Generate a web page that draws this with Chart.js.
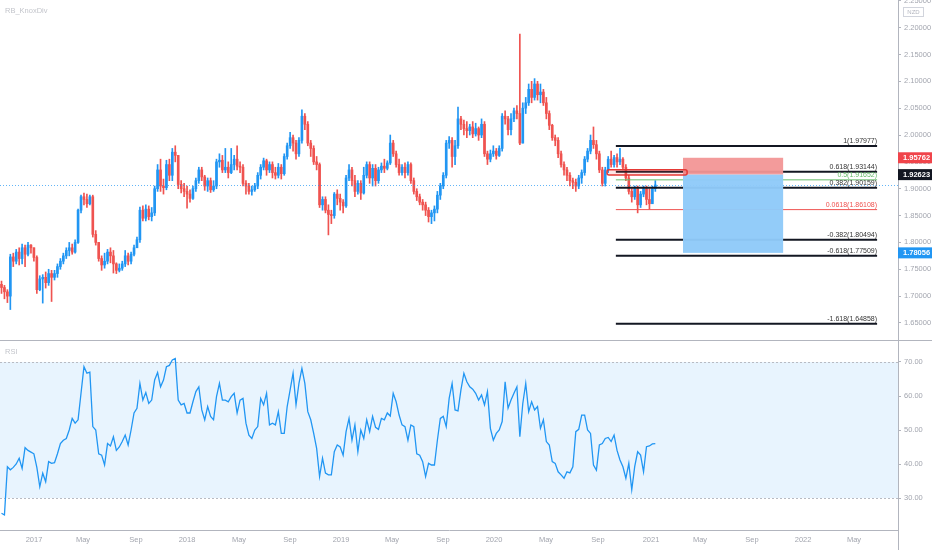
<!DOCTYPE html>
<html><head><meta charset="utf-8">
<script src="https://cdn.jsdelivr.net/npm/chart.js@4.4.1/dist/chart.umd.min.js"></script>
<style>
html,body{margin:0;padding:0;background:#fff;width:932px;height:550px;overflow:hidden}
.box{position:absolute;left:0;width:932px}
</style></head><body>
<div class="box" style="top:0;height:340px"><canvas id="c1" width="932" height="340"></canvas></div>
<div class="box" style="top:340px;height:210px"><canvas id="c2" width="932" height="210"></canvas></div>
<script>
// ---------- DATA (weekly candles, index = week number) ----------
const firstOpen = 1.722;
const closes = [
1.716,1.708,1.700,1.773,1.765,1.782,1.770,1.790,1.778,1.795,
1.790,1.772,1.712,1.732,1.735,1.725,1.742,1.735,1.742,1.755,
1.765,1.775,1.785,1.790,1.782,1.800,1.860,1.885,1.880,1.872,
1.885,1.815,1.800,1.770,1.758,1.765,1.782,1.775,1.760,1.748,
1.752,1.760,1.775,1.765,1.778,1.790,1.805,1.860,1.845,1.862,
1.848,1.855,1.900,1.935,1.905,1.902,1.945,1.925,1.968,1.962,
1.908,1.900,1.895,1.890,1.882,1.900,1.915,1.935,1.922,1.905,
1.915,1.898,1.905,1.950,1.953,1.935,1.940,1.930,1.945,1.955,
1.942,1.940,1.910,1.905,1.895,1.898,1.905,1.925,1.940,1.952,
1.935,1.945,1.930,1.925,1.940,1.928,1.960,1.980,1.995,1.985,
1.965,1.990,2.035,2.020,1.985,1.975,1.950,1.945,1.870,1.880,
1.860,1.852,1.850,1.890,1.882,1.875,1.868,1.920,1.935,1.915,
1.895,1.910,1.892,1.925,1.945,1.920,1.938,1.915,1.935,1.942,
1.938,1.948,1.985,1.965,1.945,1.930,1.940,1.930,1.945,1.915,
1.895,1.885,1.875,1.870,1.860,1.848,1.855,1.862,1.888,1.905,
1.925,1.985,1.990,1.960,1.980,2.030,2.020,2.012,2.008,2.015,
2.002,2.012,2.000,2.020,1.965,1.955,1.965,1.970,1.962,1.975,
2.035,2.030,2.010,2.030,2.045,2.040,1.985,2.050,2.060,2.085,
2.070,2.095,2.075,2.080,2.060,2.040,2.018,1.995,1.990,1.965,
1.945,1.935,1.925,1.915,1.912,1.905,1.920,1.930,1.955,1.970,
1.990,1.982,1.965,1.935,1.910,1.935,1.955,1.945,1.958,1.950,
1.955,1.940,1.920,1.895,1.885,1.900,1.870,1.890,1.900,1.880,
1.872,1.900,1.907];
const highs = [
1.728,1.720,1.712,1.778,1.780,1.787,1.790,1.797,1.795,1.800,
1.796,1.790,1.775,1.738,1.740,1.745,1.750,1.748,1.748,1.760,
1.770,1.780,1.790,1.800,1.797,1.805,1.862,1.888,1.892,1.890,
1.888,1.888,1.822,1.800,1.775,1.780,1.787,1.790,1.785,1.762,
1.760,1.765,1.785,1.780,1.782,1.795,1.810,1.866,1.868,1.870,
1.868,1.865,1.905,1.945,1.955,1.918,1.953,1.955,1.975,1.980,
1.962,1.915,1.910,1.905,1.898,1.905,1.920,1.940,1.940,1.925,
1.920,1.920,1.915,1.955,1.965,1.962,1.975,1.950,1.975,1.962,
1.980,1.950,1.945,1.915,1.910,1.905,1.910,1.930,1.945,1.957,
1.955,1.950,1.950,1.940,1.947,1.945,1.965,1.985,2.005,2.000,
1.990,1.995,2.047,2.040,2.025,1.990,1.980,1.960,1.948,1.885,
1.885,1.870,1.860,1.893,1.898,1.890,1.880,1.925,1.945,1.940,
1.925,1.915,1.915,1.940,1.950,1.950,1.945,1.945,1.940,1.948,
1.955,1.952,2.000,1.990,1.970,1.955,1.945,1.948,1.950,1.948,
1.920,1.900,1.890,1.880,1.875,1.865,1.860,1.868,1.895,1.910,
1.930,1.990,1.997,1.995,1.990,2.052,2.035,2.028,2.025,2.020,
2.025,2.022,2.015,2.030,2.025,1.970,1.972,1.980,1.975,1.980,
2.040,2.045,2.035,2.040,2.050,2.055,2.188,2.060,2.070,2.095,
2.100,2.105,2.100,2.095,2.085,2.070,2.045,2.020,2.000,1.995,
1.970,1.950,1.940,1.930,1.920,1.918,1.925,1.935,1.960,1.975,
2.000,2.015,1.990,1.970,1.940,1.940,1.960,1.970,1.962,1.965,
1.975,1.958,1.945,1.925,1.900,1.905,1.905,1.895,1.905,1.905,
1.900,1.905,1.915];
const lows = [
1.705,1.695,1.688,1.675,1.755,1.760,1.758,1.760,1.755,1.775,
1.780,1.765,1.705,1.710,1.687,1.715,1.720,1.690,1.730,1.735,
1.750,1.760,1.770,1.775,1.778,1.780,1.798,1.855,1.870,1.865,
1.870,1.810,1.795,1.765,1.748,1.752,1.760,1.762,1.743,1.742,
1.745,1.748,1.755,1.758,1.760,1.775,1.790,1.800,1.840,1.840,
1.842,1.840,1.850,1.895,1.895,1.890,1.898,1.915,1.915,1.950,
1.900,1.892,1.885,1.864,1.875,1.880,1.895,1.910,1.915,1.897,
1.895,1.893,1.895,1.900,1.940,1.930,1.930,1.920,1.928,1.935,
1.935,1.930,1.905,1.890,1.890,1.888,1.895,1.900,1.918,1.935,
1.925,1.930,1.920,1.918,1.920,1.918,1.925,1.955,1.975,1.970,
1.955,1.960,1.985,2.010,1.980,1.960,1.945,1.935,1.865,1.860,
1.855,1.814,1.835,1.845,1.870,1.860,1.855,1.865,1.915,1.905,
1.885,1.890,1.880,1.890,1.920,1.910,1.905,1.905,1.910,1.930,
1.930,1.935,1.945,1.960,1.940,1.925,1.925,1.920,1.925,1.910,
1.890,1.878,1.870,1.860,1.850,1.838,1.835,1.840,1.855,1.880,
1.900,1.920,1.975,1.940,1.945,1.975,2.010,2.000,1.995,2.000,
1.995,1.998,1.990,1.995,1.960,1.945,1.950,1.960,1.955,1.960,
1.970,2.020,2.000,2.000,2.025,2.030,1.982,1.985,2.040,2.055,
2.060,2.065,2.065,2.060,2.055,2.030,2.010,1.990,1.980,1.958,
1.940,1.925,1.915,1.905,1.900,1.895,1.900,1.910,1.925,1.950,
1.965,1.975,1.955,1.930,1.905,1.905,1.930,1.940,1.940,1.940,
1.945,1.935,1.915,1.890,1.875,1.880,1.855,1.865,1.885,1.870,
1.862,1.875,1.895];
const rsiValues = [
25.5,25.0,39.2,38.3,39.0,40.0,41.7,38.7,44.8,44.0,
43.5,43.0,39.0,33.3,37.3,34.8,40.7,40.2,40.4,43.0,
46.0,47.0,47.5,50.0,53.4,52.0,53.0,60.8,68.6,66.7,
67.0,51.0,50.0,43.0,42.6,39.7,46.0,45.3,48.0,44.0,
45.0,46.6,48.5,45.6,50.0,55.0,56.4,63.7,58.8,61.0,
57.8,58.8,64.7,66.9,62.7,64.7,68.6,69.0,70.6,71.0,
58.8,57.4,57.8,55.0,55.0,58.3,61.3,62.7,55.9,53.0,
56.9,54.0,53.0,59.8,63.7,58.8,58.8,58.3,59.8,60.8,
55.0,58.8,59.3,52.0,48.5,47.5,50.0,51.0,59.3,57.4,
60.8,51.5,52.0,51.5,55.4,49.0,49.0,56.9,61.8,66.7,
57.4,63.7,68.1,63.7,55.4,53.0,49.0,44.6,36.3,41.7,
37.3,36.8,36.8,43.6,45.6,45.0,42.6,49.5,53.4,47.0,
51.5,43.6,50.0,47.5,53.0,49.5,54.0,50.8,50.2,53.4,
53.0,55.0,54.1,60.8,58.3,54.4,51.5,51.0,47.0,51.5,
51.0,43.0,42.6,40.7,36.3,40.2,39.7,39.7,47.0,53.4,
54.0,51.0,59.3,63.7,55.9,55.6,61.8,66.7,64.2,62.7,
62.0,60.8,58.8,60.3,57.4,61.3,50.5,47.0,49.0,50.0,
52.5,64.2,56.4,58.8,60.8,62.7,48.0,57.8,63.7,55.4,
58.3,55.9,56.9,50.5,53.0,46.6,45.6,40.7,40.2,37.7,
36.8,35.8,37.7,37.4,39.2,49.5,50.2,54.4,54.4,50.0,
49.0,39.7,38.2,45.6,46.0,47.5,47.8,46.6,48.5,44.0,
41.2,39.2,35.8,40.2,32.4,39.2,43.6,42.6,37.7,45.1,
45.3,45.9,46.0];

// axis ticks
const timeTickWeeks = [11.04,27.67,45.67,62.99,80.65,97.96,115.28,132.6,149.92,167.23,184.89,202.55,220.54,237.18,254.84,272.16,289.47];
const timeTickLabels = ['2017','May','Sep','2018','May','Sep','2019','May','Sep','2020','May','Sep','2021','May','Sep','2022','May'];
const priceTicks = [1.65,1.70,1.75,1.80,1.85,1.90,1.95,2.00,2.05,2.10,2.15,2.20,2.25];
const rsiTicks = [30,40,50,60,70];
const weekMin = -0.51, weekMax = 304.4;
const priceMin = 1.6183, priceMax = 2.2514;
const rsiMin = 20.59, rsiMax = 76.47;
const rsiUpper = 70, rsiLower = 30;

// drawings
const fibRatios = ['1','0.618','0.5','0.382','0.0618','-0.382','-0.618','-1.618'];
const fibPrices = [1.97977,1.93144,1.91652,1.90159,1.86108,1.80494,1.77509,1.64858];
const fibStartWeek = 208.6, fibEndWeek = 297.3;
const posStartWeek = 231.4, posEndWeek = 265.4;
const entryPrice = 1.92623, stopPrice = 1.95762, targetPrice = 1.78056;
const zoneStartWeek = 205.6, zoneEndWeek = 232.8, zoneTop = 1.9355, zoneBottom = 1.9255;
const lastPrice = 1.907;
const titleText = 'RB_KnoxDiv';
const currencyText = 'NZD';

// ---------- STYLE ----------
const UP = '#2196f3', DOWN = '#ef5350';
const AXIS = '#b2b5be', TXT = '#a3a6af';
const FONT = "'Liberation Sans', Arial, sans-serif";

const opens = closes.map((c,i)=> i===0 ? firstOpen : closes[i-1]);
const colorFor = i => closes[i] >= opens[i] ? UP : DOWN;

const bodyData = closes.map((c,i)=>({x:i, y:[opens[i], c]}));
const wickData = closes.map((c,i)=>({x:i, y:[lows[i], highs[i]]}));

const noPadV = s => { s.width = 34; s.paddingTop = 0; s.paddingBottom = 0; };

const overlay = {
  id:'overlay',
  afterDatasetsDraw(chart){
    const {ctx, chartArea:a, scales:{x, y}} = chart;
    ctx.save();
    const ly = Math.round(y.getPixelForValue(lastPrice))+0.5;
    ctx.strokeStyle = 'rgba(33,150,243,0.7)'; ctx.lineWidth = 1; ctx.setLineDash([1,2]);
    ctx.beginPath(); ctx.moveTo(a.left, ly); ctx.lineTo(a.right, ly); ctx.stroke();
    ctx.setLineDash([]);
    const fx0 = x.getPixelForValue(fibStartWeek), fx1 = x.getPixelForValue(fibEndWeek);
    ctx.font = '7px ' + FONT; ctx.textAlign = 'right'; ctx.textBaseline = 'alphabetic';
    fibRatios.forEach((r,i)=>{
      const py = y.getPixelForValue(fibPrices[i]);
      let col = '#131722', lw = 2;
      if (r==='0.5'){ col = '#66bb6a'; lw = 1; }
      if (r==='0.0618'){ col = '#ef5350'; lw = 1; }
      ctx.strokeStyle = col; ctx.lineWidth = lw;
      ctx.beginPath(); ctx.moveTo(fx0, py); ctx.lineTo(fx1, py); ctx.stroke();
      ctx.fillStyle = r==='0.5' ? '#66bb6a' : (r==='0.0618' ? '#ef5350' : '#333');
      ctx.fillText(r + '(' + fibPrices[i].toFixed(5) + ')', fx1, py - 3);
    });
    const px0 = x.getPixelForValue(posStartWeek), px1 = x.getPixelForValue(posEndWeek);
    const ys = y.getPixelForValue(stopPrice), ye = y.getPixelForValue(entryPrice), yt = y.getPixelForValue(targetPrice);
    ctx.fillStyle = 'rgba(242,150,150,0.95)';
    ctx.fillRect(px0, ys, px1-px0, ye-ys);
    ctx.fillStyle = 'rgba(144,202,249,0.97)';
    ctx.fillRect(px0, ye, px1-px0, yt-ye);
    const zx0 = x.getPixelForValue(zoneStartWeek), zx1 = x.getPixelForValue(zoneEndWeek);
    const zy0 = y.getPixelForValue(zoneTop), zy1 = y.getPixelForValue(zoneBottom);
    ctx.fillStyle = 'rgba(239,83,80,0.15)';
    ctx.fillRect(zx0, zy0, zx1-zx0, zy1-zy0);
    ctx.strokeStyle = '#e53935'; ctx.lineWidth = 1.5;
    ctx.beginPath(); ctx.roundRect(zx0, zy0, zx1-zx0, zy1-zy0, 2); ctx.stroke();
    ctx.restore();
  },
  afterDraw(chart){
    const {ctx, chartArea:a, scales:{y}} = chart;
    ctx.save();
    const tags = [[stopPrice, '#f0444a'], [entryPrice, '#131722'], [targetPrice, '#2196f3']];
    ctx.font = 'bold 7.5px ' + FONT; ctx.textBaseline = 'middle'; ctx.textAlign = 'left';
    tags.forEach(([p, bg])=>{
      const py = y.getPixelForValue(p);
      ctx.fillStyle = bg; ctx.fillRect(a.right, py-5.5, chart.width - a.right, 11);
      ctx.fillStyle = '#fff'; ctx.fillText(p.toFixed(5), a.right+5, py+0.5);
    });
    ctx.font = '7.5px ' + FONT; ctx.fillStyle = '#c3c5cb'; ctx.textBaseline = 'middle';
    ctx.fillText(titleText, 5, 11);
    ctx.fillStyle = '#fff'; ctx.fillRect(902, 6, 23, 11);
    ctx.strokeStyle = '#d1d4dc'; ctx.lineWidth = 1;
    ctx.strokeRect(903.5, 7.5, 20, 9);
    ctx.font = '6px ' + FONT; ctx.fillStyle = '#b2b5be'; ctx.textAlign = 'center';
    ctx.fillText(currencyText, 913.5, 12.5);
    ctx.restore();
  }
};

new Chart(document.getElementById('c1'), {
  type:'bar',
  data:{datasets:[
    {data: bodyData, grouped:false, barThickness:2, minBarLength:1, borderWidth:0,
     backgroundColor: c => colorFor(c.dataIndex)},
    {data: wickData, grouped:false, barThickness:1, borderWidth:0,
     backgroundColor: c => colorFor(c.dataIndex)}
  ]},
  options:{
    responsive:false, animation:false, devicePixelRatio:1,
    layout:{padding:0},
    plugins:{legend:{display:false}, tooltip:{enabled:false}},
    scales:{
      x:{type:'linear', min:weekMin, max:weekMax, display:false, offset:false, grid:{offset:false}},
      y:{position:'right', min:priceMin, max:priceMax, beginAtZero:false,
         afterBuildTicks: s => { s.ticks = priceTicks.map(v=>({value:v})); },
         afterFit: noPadV,
         grid:{drawOnChartArea:false, drawTicks:true, tickLength:3, color:AXIS},
         border:{display:true, color:AXIS},
         ticks:{padding:3, color:TXT, font:{size:7.5, family:FONT}, callback: v => Number(v).toFixed(5)}}
    }
  },
  plugins:[overlay]
});

const rsiDecor = {
  id:'rsiDecor',
  beforeDatasetsDraw(chart){
    const {ctx, chartArea:a, scales:{y}} = chart;
    const yu = y.getPixelForValue(rsiUpper), yl = y.getPixelForValue(rsiLower);
    ctx.save();
    ctx.fillStyle = 'rgba(33,150,243,0.1)';
    ctx.fillRect(a.left, yu, a.right-a.left, yl-yu);
    ctx.strokeStyle = '#b8bbc3'; ctx.lineWidth = 1; ctx.setLineDash([2,2]);
    [yu, yl].forEach(v=>{ const yy = Math.round(v)+0.5; ctx.beginPath(); ctx.moveTo(a.left, yy); ctx.lineTo(a.right, yy); ctx.stroke(); });
    ctx.restore();
  },
  afterDraw(chart){
    const {ctx, chartArea:a} = chart;
    ctx.save();
    ctx.strokeStyle = AXIS; ctx.lineWidth = 1;
    ctx.beginPath(); ctx.moveTo(0, 0.5); ctx.lineTo(chart.width, 0.5); ctx.stroke();
    ctx.beginPath(); ctx.moveTo(a.right+0.5, a.bottom); ctx.lineTo(a.right+0.5, chart.height); ctx.stroke();
    ctx.font = '7.5px ' + FONT; ctx.fillStyle = '#c3c5cb'; ctx.textBaseline = 'middle';
    ctx.fillText('RSI', 5, 12);
    ctx.restore();
  }
};

new Chart(document.getElementById('c2'), {
  type:'line',
  data:{datasets:[{data: rsiValues.map((v,i)=>({x:i, y:v})), borderColor:'#2196f3', borderWidth:1.3, pointRadius:0, tension:0, fill:false}]},
  options:{
    responsive:false, animation:false, devicePixelRatio:1,
    layout:{padding:0},
    plugins:{legend:{display:false}, tooltip:{enabled:false}},
    scales:{
      x:{type:'linear', min:weekMin, max:weekMax, offset:false,
         afterBuildTicks: s => { s.ticks = timeTickWeeks.map(v=>({value:v})); },
         afterFit: s => { s.height = 20; s.paddingLeft = 0; s.paddingRight = 0; },
         grid:{drawOnChartArea:false, drawTicks:false, color:AXIS},
         border:{display:true, color:AXIS},
         ticks:{autoSkip:false, maxRotation:0, padding:5, color:TXT, font:{size:7.5, family:FONT},
                callback:(v,i)=> timeTickLabels[i]}},
      y:{position:'right', min:rsiMin, max:rsiMax,
         afterBuildTicks: s => { s.ticks = rsiTicks.map(v=>({value:v})); },
         afterFit: noPadV,
         grid:{drawOnChartArea:false, drawTicks:true, tickLength:3, color:AXIS},
         border:{display:true, color:AXIS},
         ticks:{padding:3, color:TXT, font:{size:7.5, family:FONT}, callback: v => Number(v).toFixed(2)}}
    }
  },
  plugins:[rsiDecor]
});
</script>
</body></html>
